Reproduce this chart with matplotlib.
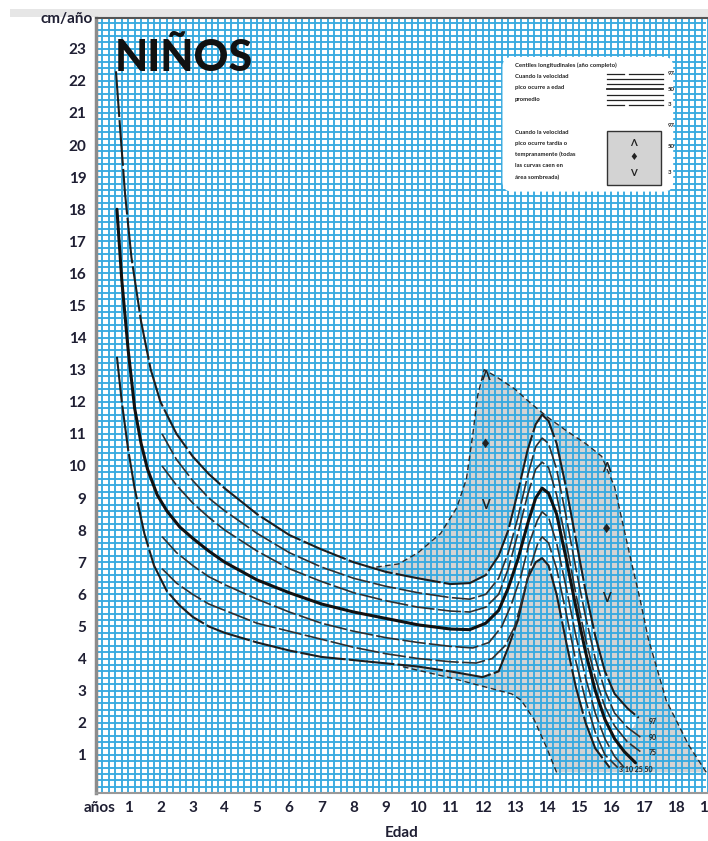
import matplotlib
matplotlib.use("Agg")
import matplotlib.pyplot as plt
from matplotlib.patches import Polygon, FancyBboxPatch, Rectangle
import numpy as np

plt.rcParams["font.family"] = ["Lato", "DejaVu Sans"]

# ---- percentile curves: (age in years, velocity cm/year) ----
p97_x = [0.62, 0.75, 0.9, 1.1, 1.4, 1.7, 2.0, 2.5, 3.0, 3.5, 4.0, 5.0, 6.0, 7.0, 8.0, 9.0,
         10.0, 11.0, 11.6, 12.1, 12.5, 12.8, 13.1, 13.4, 13.65, 13.85, 14.05, 14.3, 14.6,
         14.9, 15.2, 15.5, 15.8, 16.1, 16.5, 16.85]
p97_y = [22.3, 20.5, 18.5, 16.5, 14.5, 13.0, 12.0, 11.0, 10.3, 9.75, 9.3, 8.5, 7.85, 7.4, 7.0, 6.7,
         6.5, 6.32, 6.35, 6.6, 7.2, 8.0, 9.2, 10.5, 11.3, 11.6, 11.4, 10.7, 9.3,
         7.7, 6.1, 4.7, 3.6, 2.9, 2.45, 2.15]

p90_x = [2.05, 2.5, 3.0, 3.5, 4.0, 5.0, 6.0, 7.0, 8.0, 9.0, 10.0, 11.0, 11.6, 12.1, 12.5, 12.8,
         13.1, 13.4, 13.65, 13.85, 14.05, 14.3, 14.6, 14.9, 15.2, 15.5, 15.8, 16.1, 16.5, 16.9]
p90_y = [11.0, 10.2, 9.55, 9.0, 8.6, 7.9, 7.3, 6.85, 6.5, 6.25, 6.05, 5.9, 5.85, 6.0, 6.5, 7.3,
         8.4, 9.7, 10.6, 10.87, 10.7, 9.9, 8.4, 6.8, 5.3, 4.0, 3.0, 2.3, 1.85, 1.55]

p75_x = p90_x
p75_y = [10.0, 9.4, 8.85, 8.4, 8.0, 7.35, 6.8, 6.4, 6.05, 5.8, 5.6, 5.48, 5.45, 5.6, 6.0, 6.8,
         7.9, 9.1, 9.9, 10.12, 9.95, 9.1, 7.6, 6.0, 4.6, 3.4, 2.5, 1.9, 1.4, 1.1]

p50_x = [0.65, 0.8, 1.0, 1.2, 1.4, 1.6, 1.9, 2.2, 2.6, 3.0, 3.5, 4.0, 5.0, 6.0, 7.0, 8.0, 9.0,
         10.0, 11.0, 11.6, 12.1, 12.5, 12.8, 13.1, 13.4, 13.65, 13.85, 14.05, 14.3, 14.6, 14.9,
         15.2, 15.5, 15.8, 16.1, 16.4, 16.75]
p50_y = [18.0, 15.8, 13.6, 11.8, 10.7, 9.9, 9.1, 8.6, 8.1, 7.75, 7.35, 7.0, 6.45, 6.05, 5.7, 5.45,
         5.25, 5.05, 4.92, 4.9, 5.1, 5.5, 6.2, 7.1, 8.2, 9.0, 9.31, 9.15, 8.5, 7.1, 5.6,
         4.2, 3.0, 2.1, 1.5, 1.1, 0.75]

p25_x = [2.05, 2.5, 3.0, 3.5, 4.0, 5.0, 6.0, 7.0, 8.0, 9.0, 10.0, 11.0, 11.7, 12.2, 12.6, 12.9,
         13.2, 13.45, 13.7, 13.85, 14.05, 14.3, 14.6, 14.9, 15.2, 15.5, 15.8, 16.1, 16.4]
p25_y = [7.8, 7.3, 6.9, 6.55, 6.3, 5.85, 5.45, 5.1, 4.85, 4.65, 4.5, 4.38, 4.33, 4.5, 5.0, 5.7,
         6.6, 7.6, 8.3, 8.57, 8.4, 7.6, 6.2, 4.7, 3.4, 2.3, 1.5, 0.95, 0.6]

p10_x = [2.05, 2.5, 3.0, 3.5, 4.0, 5.0, 6.0, 7.0, 8.0, 9.0, 10.0, 11.0, 11.8, 12.3, 12.7, 13.0,
         13.25, 13.5, 13.72, 13.85, 14.05, 14.3, 14.6, 14.9, 15.2, 15.5, 15.8, 16.2]
p10_y = [6.8, 6.35, 6.0, 5.7, 5.5, 5.1, 4.85, 4.6, 4.35, 4.15, 4.0, 3.9, 3.86, 4.0, 4.4, 5.0,
         5.9, 6.9, 7.6, 7.79, 7.6, 6.8, 5.4, 3.9, 2.7, 1.7, 1.0, 0.6]

p3_x = [0.65, 0.8, 1.0, 1.2, 1.5, 1.8, 2.2, 2.6, 3.0, 3.5, 4.0, 5.0, 6.0, 7.0, 8.0, 9.0, 10.0,
        11.0, 12.0, 12.5, 12.8, 13.1, 13.4, 13.65, 13.85, 14.05, 14.3, 14.6, 14.9, 15.2, 15.5, 15.95]
p3_y = [13.4, 12.0, 10.5, 9.3, 7.9, 6.9, 6.1, 5.65, 5.3, 5.0, 4.8, 4.5, 4.25, 4.05, 3.95, 3.85, 3.75,
        3.6, 3.42, 3.6, 4.35, 5.2, 6.5, 7.0, 7.13, 6.9, 6.0, 4.5, 3.1, 2.0, 1.2, 0.6]

# ---- shaded area for early / late peak velocity ----
band_x = [8.7, 9.4, 10.0, 10.7, 11.2, 11.5, 11.7, 11.85, 12.05, 12.4, 13.0, 13.5, 14.05, 14.6,
          15.2, 15.7, 16.1, 16.4, 16.6, 16.9, 17.15, 17.5, 17.7, 18.1, 18.4, 18.95,
          18.95, 14.3, 14.0, 13.6, 13.2, 12.9, 11.0, 9.5]
band_y = [6.85, 6.95, 7.3, 7.9, 8.7, 9.6, 11.0, 12.2, 13.0, 12.8, 12.4, 11.95, 11.5, 11.1,
          10.7, 10.3, 9.35, 8.0, 7.1, 5.8, 4.6, 3.4, 2.7, 1.9, 1.3, 0.45,
          0.45, 0.45, 1.2, 2.1, 2.7, 2.9, 3.4, 3.75]

x_ticks = list(range(1, 20))
y_ticks = list(range(1, 24))

W, H = 708, 841
fig = plt.figure(figsize=(W / 100, H / 100), dpi=100)
ax = fig.add_axes([96 / W, 1 - 793 / H, 1 - 96 / W, (793 - 18) / H])
ax.set_xlim(0, 18.95)
ax.set_ylim(-0.19, 23.96)

# shading, then a white fill between the outer centiles
ax.add_patch(Polygon(np.column_stack([band_x, band_y]), closed=True,
                     facecolor="#d3d3d3", edgecolor="none", zorder=0.2))
inner = np.column_stack([p97_x + p3_x[::-1], p97_y + p3_y[::-1]])
ax.add_patch(Polygon(inner, closed=True, facecolor="white", edgecolor="none", zorder=0.4))

# millimetre-style grid
gx = np.arange(0, 19.01, 0.2)
gy = np.arange(-0.2, 24.01, 0.2)
ax.vlines(gx, -0.19, 23.96, colors="#38aae0", linewidth=1.35, zorder=1)
ax.hlines(gy, 0, 18.95, colors="#38aae0", linewidth=1.35, zorder=1)

# envelope outline
ax.plot(band_x[:26], band_y[:26], color="#2a2a2a", lw=1.0, dashes=(4, 2.5), zorder=3)
ax.plot(band_x[27:] + [band_x[-1]], band_y[27:] + [band_y[-1]], color="#2a2a2a", lw=1.0,
        dashes=(4, 2.5), zorder=3)

# centile curves
ax.plot(p97_x, p97_y, color="#1e1e1e", lw=1.5, dashes=(22, 1.5), zorder=3)
ax.plot(p3_x, p3_y, color="#1e1e1e", lw=1.5, dashes=(22, 1.5), zorder=3)
for cx, cy in [(p90_x, p90_y), (p75_x, p75_y), (p25_x, p25_y), (p10_x, p10_y)]:
    ax.plot(cx, cy, color="#303030", lw=1.2, dashes=(14, 2), zorder=3)
ax.plot(p50_x, p50_y, color="#111111", lw=2.2, solid_capstyle="round", zorder=3.2)

# centile labels at the curve ends
lab_kw = dict(fontsize=5, color="#222222", fontweight="bold", zorder=5, va="center")
ax.text(17.15, 2.05, "97", ha="left", **lab_kw)
ax.text(17.15, 1.55, "90", ha="left", **lab_kw)
ax.text(17.15, 1.07, "75", ha="left", **lab_kw)
ax.text(16.75, 0.55, "3 10 25 50", ha="center", **lab_kw)

# early / average / late markers in the shaded area
mk = dict(fontsize=9, fontweight="bold", color="#222222", ha="center", va="center", zorder=5)
for xm, ys in [(12.1, (12.8, 10.7, 8.8)), (15.85, (9.95, 8.05, 5.9))]:
    ax.text(xm, ys[0], "Λ", **mk)
    ax.text(xm, ys[1], "♦", **mk)
    ax.text(xm, ys[2], "V", **mk)

# title
ax.text(0.58, 22.7, "NIÑOS", fontsize=31, fontweight="black", color="#111111",
        ha="left", va="center", zorder=5)

# key box
ax.add_patch(FancyBboxPatch((12.62, 18.55), 5.3, 4.2, boxstyle="round,pad=0,rounding_size=0.3",
                            facecolor="white", edgecolor="none", zorder=4))
kt = dict(fontsize=4.3, color="#222222", ha="left", va="center", zorder=5, fontweight="bold")
ax.text(13.0, 22.5, "Centiles longitudinales (año completo)", **kt)
for i, s in enumerate(["Cuando la velocidad", "pico ocurre a edad", "promedio"]):
    ax.text(13.0, 22.15 - i * 0.36, s, **kt)
for i, s in enumerate(["Cuando la velocidad", "pico ocurre tardía o", "tempranamente (todas",
                       "las curvas caen en", "área sombreada)"]):
    ax.text(13.0, 20.4 - i * 0.35, s, **kt)
ly = [22.22, 22.06, 21.9, 21.74, 21.57, 21.41, 21.24]
for i, yv in enumerate(ly):
    if i in (0, 6):
        ax.plot([15.85, 16.4], [yv, yv], color="#222222", lw=0.9, zorder=5)
        ax.plot([16.55, 17.6], [yv, yv], color="#222222", lw=0.9, zorder=5)
    else:
        ax.plot([15.85, 17.6], [yv, yv], color="#222222", lw=1.3 if i == 3 else 0.9, zorder=5)
ax.text(17.75, 22.22, "97", **kt)
ax.text(17.75, 21.74, "50", **kt)
ax.text(17.75, 21.27, "3", **kt)
ax.add_patch(Rectangle((15.85, 18.75), 1.7, 1.7, facecolor="#d3d3d3", edgecolor="#333333",
                       lw=1.0, zorder=5))
ax.text(16.7, 20.05, "Λ", fontsize=7, fontweight="bold", color="#222222", ha="center",
        va="center", zorder=6)
ax.text(16.7, 19.6, "♦", fontsize=7, color="#222222", ha="center", va="center", zorder=6)
ax.text(16.7, 19.1, "V", fontsize=7, fontweight="bold", color="#222222", ha="center",
        va="center", zorder=6)
ax.text(17.75, 20.6, "97", **kt)
ax.text(17.75, 19.95, "50", **kt)
ax.text(17.75, 19.15, "3", **kt)

# axes frame and ticks
ax.spines["right"].set_visible(False)
ax.spines["left"].set_color("#8c8c8c")
ax.spines["left"].set_linewidth(2.5)
ax.spines["top"].set_color("#555555")
ax.spines["top"].set_linewidth(1.5)
ax.spines["bottom"].set_color("#999999")
ax.spines["bottom"].set_linewidth(1.5)
for s in ax.spines.values():
    s.set_zorder(6)

tick_color = "#1f1f33"
ax.set_xticks(x_ticks)
ax.set_xticklabels([str(v) for v in x_ticks], fontsize=11, fontweight="bold", color=tick_color)
ax.set_yticks(y_ticks)
ax.set_yticklabels([str(v) for v in y_ticks], fontsize=11, fontweight="bold", color=tick_color)
ax.tick_params(axis="both", length=0)
ax.tick_params(axis="x", pad=6)
ax.tick_params(axis="y", pad=7)

ax.annotate("años", xy=(0.12, 0), xycoords=("data", "axes fraction"), xytext=(0, -11),
            textcoords="offset points", ha="center", va="center", fontsize=11,
            fontweight="bold", color=tick_color, annotation_clip=False)
fig.text(93 / W, 1 - 19 / H, "cm/año", ha="right", va="center", fontsize=11,
         fontweight="bold", color=tick_color, zorder=3)
fig.text(402 / W, 1 - 833 / H, "Edad", ha="center", va="center", fontsize=11,
         fontweight="bold", color=tick_color)

# light strip above the frame
fig.patches.append(Rectangle((10 / W, 1 - 17 / H), 1, 8 / H, transform=fig.transFigure,
                             facecolor="#e6e6e6", edgecolor="none", zorder=-1))

fig.savefig("out.png", dpi=100)
